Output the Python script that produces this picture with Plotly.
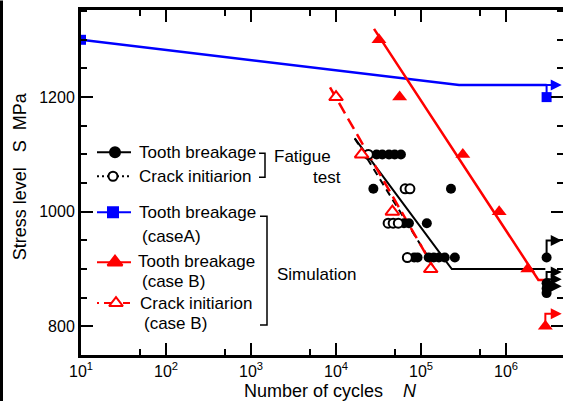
import plotly.graph_objects as go
import math

# ---------------- data ----------------
# Fatigue test: tooth breakage (filled black circles)
test_break_N = [3.0e4, 3.5e4, 4.2e4, 4.9e4, 5.8e4,
                2.75e4, 2.25e5,
                6.3e4, 7.2e4, 1.17e5,
                8.3e4, 9.1e4, 1.23e5, 1.41e5, 1.62e5, 1.9e5, 2.5e5]
test_break_S = [1100, 1100, 1100, 1100, 1100,
                1040, 1040,
                980, 980, 980,
                920, 920, 920, 920, 920, 920, 920]
# Fatigue test: crack initiation (open black circles)
test_crack_N = [2.4e4, 6.5e4, 7.4e4, 4.1e4, 4.7e4, 5.4e4, 6.9e4]
test_crack_S = [1100, 1040, 1040, 980, 980, 980, 920]
# run-outs of the fatigue test
runout_N = [3.0e6, 3.0e6, 3.0e6, 3.0e6]
runout_S = [920, 875, 866, 858]
runout_arrow_S = [950, 895, 882, 870]
# fitted S-N curves of the fatigue test
test_break_fit_N = [1.66e4, 2.3e5, 2.9e6]
test_break_fit_S = [1128, 900, 900]
test_crack_fit_N = [1.66e4, 1.2e5]
test_crack_fit_S = [1128, 922]

# Simulation case A (blue)
simA_N = [10, 3.0e6]
simA_S = [1300, 1200]
simA_fit_N = [10, 2.8e5, 3.0e6]
simA_fit_S = [1300, 1221, 1221]
simA_arrow_S = 1221

# Simulation case B: tooth breakage (red filled triangles)
simB_break_N = [3.2e4, 5.6e4, 3.1e5, 8.3e5, 1.8e6, 2.9e6]
simB_break_S = [1300, 1200, 1100, 1000, 900, 800]
simB_break_fit_N = [2.8e4, 2.4e6, 2.9e6]
simB_break_fit_S = [1319, 881, 881]
simB_arrow_S = 822

# Simulation case B: crack initiation (red open triangles)
simB_crack_N = [1.0e4, 2.0e4, 4.6e4, 1.3e5]
simB_crack_S = [1200, 1100, 1000, 900]
simB_crack_fit_N = [8.5e3, 1.4e5]
simB_crack_fit_S = [1217, 903]

x_tick_vals = [1e1, 1e2, 1e3, 1e4, 1e5, 1e6]
x_tick_text = ["10<sup>1</sup>", "10<sup>2</sup>", "10<sup>3</sup>",
               "10<sup>4</sup>", "10<sup>5</sup>", "10<sup>6</sup>"]
x_minor_vals = [5e1, 5e2, 5e3, 5e4, 5e5, 5e6]
y_tick_vals = [800, 1000, 1200]

# ---------------- layout geometry ----------------
W, H = 563, 401
L, R, T, B = 81, 0, 9.5, 46
PW, PH = W - L - R, H - T - B
XR = [1.0, 6.67]
YR = [750, 1352]

def PX(x):
    return (x - L) / PW

def PY(y):
    return (H - B - y) / PH

FONT = "Liberation Sans, Arial, sans-serif"
BLUE = "#0000ff"
RED = "#ff0000"
BLK = "#000000"

fig = go.Figure()

# fitted curves
fig.add_trace(go.Scatter(x=test_break_fit_N, y=test_break_fit_S, mode="lines",
                         line=dict(color=BLK, width=2), showlegend=False))
fig.add_trace(go.Scatter(x=test_crack_fit_N, y=test_crack_fit_S, mode="lines",
                         line=dict(color=BLK, width=2, dash="7px,5px"), showlegend=False))
fig.add_trace(go.Scatter(x=simA_fit_N, y=simA_fit_S, mode="lines",
                         line=dict(color=BLUE, width=2.5), showlegend=False))
fig.add_trace(go.Scatter(x=simB_break_fit_N, y=simB_break_fit_S, mode="lines",
                         line=dict(color=RED, width=2.5), showlegend=False))
fig.add_trace(go.Scatter(x=simB_crack_fit_N, y=simB_crack_fit_S, mode="lines",
                         line=dict(color=RED, width=2.5, dash="12px,6px"), showlegend=False))

# run-out paths (up then right)
tipx = 6.655
for n, s, sa in zip(runout_N, runout_S, runout_arrow_S):
    fig.add_trace(go.Scatter(x=[n, n, 10 ** 6.6], y=[s, sa, sa], mode="lines",
                             line=dict(color=BLK, width=2), showlegend=False))
    fig.add_annotation(x=tipx, y=sa, ax=6.55, ay=sa, xref="x", yref="y",
                       axref="x", ayref="y", text="", showarrow=True,
                       arrowhead=2, arrowsize=1.1, arrowwidth=2, arrowcolor=BLK)
fig.add_trace(go.Scatter(x=[simA_N[1], simA_N[1], 10 ** 6.6],
                         y=[simA_S[1], simA_arrow_S, simA_arrow_S], mode="lines",
                         line=dict(color=BLUE, width=2), showlegend=False))
fig.add_annotation(x=tipx, y=simA_arrow_S, ax=6.55, ay=simA_arrow_S, xref="x", yref="y",
                   axref="x", ayref="y", text="", showarrow=True,
                   arrowhead=2, arrowsize=1.1, arrowwidth=2, arrowcolor=BLUE)
fig.add_trace(go.Scatter(x=[simB_break_N[-1], simB_break_N[-1], 10 ** 6.6],
                         y=[simB_break_S[-1], simB_arrow_S, simB_arrow_S], mode="lines",
                         line=dict(color=RED, width=2), showlegend=False))
fig.add_annotation(x=tipx, y=simB_arrow_S, ax=6.55, ay=simB_arrow_S, xref="x", yref="y",
                   axref="x", ayref="y", text="", showarrow=True,
                   arrowhead=2, arrowsize=1.1, arrowwidth=2, arrowcolor=RED)

# markers
fig.add_trace(go.Scatter(x=test_break_N + runout_N, y=test_break_S + runout_S, mode="markers",
                         marker=dict(symbol="circle", size=10, color=BLK), showlegend=False))
fig.add_trace(go.Scatter(x=test_crack_N, y=test_crack_S, mode="markers",
                         marker=dict(symbol="circle", size=9, color="white",
                                     line=dict(color=BLK, width=2)), showlegend=False))
fig.add_trace(go.Scatter(x=simB_crack_N, y=simB_crack_S, mode="markers",
                         marker=dict(symbol="triangle-up", size=12, color="white",
                                     line=dict(color=RED, width=2)), showlegend=False))
fig.add_trace(go.Scatter(x=simB_break_N, y=simB_break_S, mode="markers",
                         marker=dict(symbol="triangle-up", size=13, color=RED), showlegend=False))
fig.add_trace(go.Scatter(x=simA_N, y=simA_S, mode="markers", yaxis="y2",
                         marker=dict(symbol="square", size=10, color=BLUE), showlegend=False))

# ---------------- hand-drawn legend (pixel overlay axes) ----------------
leg_items = [
    dict(y=152, mx=115, color=BLK, dash="solid", sym="circle", fill=BLK, size=10),
    dict(y=176, mx=113, color=BLK, dash="2px,3px", sym="circle", fill="white", size=9),
    dict(y=212, mx=113, color=BLUE, dash="solid", sym="square", fill=BLUE, size=10),
    dict(y=262, mx=115, color=RED, dash="solid", sym="triangle-up", fill=RED, size=13),
    dict(y=303, mx=116, color=RED, dash="2px,5px,7px,5px", sym="triangle-up", fill="white", size=12),
]
for it in leg_items:
    fig.add_trace(go.Scatter(x=[97, 131], y=[it["y"], it["y"]], mode="lines",
                             xaxis="x2", yaxis="y3",
                             line=dict(color=it["color"], width=2, dash=it["dash"]),
                             showlegend=False, hoverinfo="skip"))
    fig.add_trace(go.Scatter(x=[it["mx"]], y=[it["y"]], mode="markers",
                             xaxis="x2", yaxis="y3",
                             marker=dict(symbol=it["sym"], size=it["size"], color=it["fill"],
                                         line=dict(color=it["color"], width=2)),
                             showlegend=False, hoverinfo="skip"))

leg_texts = [
    ("Tooth breakage", 137, 152),
    ("Crack initiarion", 137, 176),
    ("Tooth breakage", 137, 212),
    ("(caseA)", 140, 236),
    ("Tooth breakage", 136, 261),
    ("(case B)", 140, 281),
    ("Crack initiarion", 138, 303),
    ("(case B)", 142, 323),
    ("Fatigue", 272, 156),
    ("test", 311, 177),
    ("Simulation", 275, 274),
]
for txt, x, y in leg_texts:
    fig.add_annotation(x=PX(x), y=PY(y), xref="paper", yref="paper", text=txt,
                       showarrow=False, xanchor="left", yanchor="middle",
                       font=dict(family=FONT, size=17, color=BLK))

# brackets
def bracket(xv, y0, y1, xl):
    fig.add_shape(type="path", xref="paper", yref="paper",
                  path=f"M {PX(xl)},{PY(y0)} L {PX(xv)},{PY(y0)} L {PX(xv)},{PY(y1)} L {PX(xl)},{PY(y1)}",
                  line=dict(color=BLK, width=1.5))
bracket(265, 153, 177, 259)
bracket(267, 216, 325, 260)

# left border of the figure
fig.add_shape(type="line", xref="paper", yref="paper", x0=PX(1.5), x1=PX(1.5),
              y0=PY(0), y1=PY(H), line=dict(color=BLK, width=3))

# axis titles
fig.add_annotation(x=PX(330), y=PY(391), xref="paper", yref="paper",
                   text="Number of cycles\u00a0\u00a0\u00a0\u00a0<i>N</i>", showarrow=False,
                   xanchor="center", yanchor="middle", font=dict(family=FONT, size=18, color=BLK))
fig.add_annotation(x=PX(20), y=PY(176), xref="paper", yref="paper", textangle=-90,
                   text="Stress level\u00a0\u00a0\u00a0S\u00a0\u00a0MPa", showarrow=False,
                   xanchor="center", yanchor="middle", font=dict(family=FONT, size=18, color=BLK))

fig.update_layout(
    width=W, height=H,
    margin=dict(l=L, r=R, t=T, b=B, pad=0),
    paper_bgcolor="white", plot_bgcolor="white",
    font=dict(family=FONT, size=16, color=BLK),
    showlegend=False,
    xaxis=dict(type="log", range=XR, tickvals=x_tick_vals, ticktext=x_tick_text,
               ticks="inside", ticklen=12, tickwidth=2, tickcolor=BLK,
               showline=True, linewidth=3, linecolor=BLK, mirror="ticks",
               showgrid=False, zeroline=False, tickfont=dict(size=16),
               minor=dict(tickvals=x_minor_vals, ticks="inside", ticklen=6,
                          tickwidth=2, tickcolor=BLK, showgrid=False)),
    yaxis=dict(range=YR, tickvals=y_tick_vals, ticks="inside", ticklen=12, tickwidth=2,
               tickcolor=BLK, showline=True, linewidth=3, linecolor=BLK, mirror=False,
               showgrid=False, zeroline=False, tickfont=dict(size=16),
               minor=dict(dtick=50, tick0=0, ticks="inside", ticklen=6, tickwidth=2,
                          tickcolor=BLK, showgrid=False)),
    yaxis2=dict(range=YR, overlaying="y", side="right", tickvals=y_tick_vals,
                ticks="inside", ticklen=12, tickwidth=2, tickcolor=BLK,
                showticklabels=False, showline=False, showgrid=False, zeroline=False,
                minor=dict(dtick=50, tick0=0, ticks="inside", ticklen=6, tickwidth=2,
                           tickcolor=BLK, showgrid=False)),
    xaxis2=dict(range=[L, W - R], overlaying="x", visible=False),
    yaxis3=dict(range=[H - B, T], overlaying="y", visible=False),
)

fig.write_html("out.html")
